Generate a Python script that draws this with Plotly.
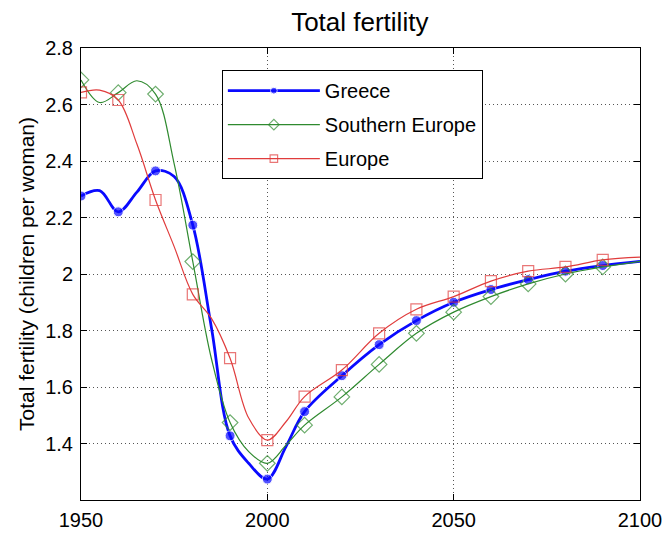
import plotly.graph_objects as go

years = [1950, 1955, 1960, 1965, 1970, 1975, 1980, 1985, 1990, 1995, 2000, 2005,
         2010, 2020, 2030, 2040, 2050, 2060, 2070, 2080, 2090, 2100]
greece = [2.276, 2.295, 2.22, 2.29, 2.365, 2.345, 2.173, 1.81, 1.427, 1.33, 1.274, 1.389,
          1.513, 1.64, 1.75, 1.835, 1.90, 1.945, 1.98, 2.01, 2.03, 2.045]
southern_europe = [2.687, 2.607, 2.642, 2.684, 2.637, 2.39, 2.044, 1.70, 1.474, 1.371, 1.33, 1.394,
                   1.465, 1.565, 1.68, 1.79, 1.865, 1.92, 1.965, 2.0, 2.025, 2.045]
europe = [2.643, 2.651, 2.616, 2.46, 2.262, 2.097, 1.928, 1.843, 1.702, 1.49, 1.412, 1.477,
          1.566, 1.66, 1.79, 1.875, 1.92, 1.975, 2.01, 2.025, 2.05, 2.06]
marker_years = [1950, 1960, 1970, 1980, 1990, 2000, 2010, 2020, 2030, 2040, 2050, 2060, 2070, 2080, 2090]
y_ticks = [1.4, 1.6, 1.8, 2.0, 2.2, 2.4, 2.6, 2.8]
y_tick_text = ["1.4", "1.6", "1.8", "2", "2.2", "2.4", "2.6", "2.8"]
x_ticks = [1950, 2000, 2050, 2100]

def sizes(s):
    return [s if y in marker_years else 0 for y in years]

fig = go.Figure()
fig.add_trace(go.Scatter(
    x=years, y=greece, name="Greece", mode="lines+markers", legendgroup="g1",
    line=dict(color="#0a0aff", width=2.8, shape="spline", smoothing=1.0),
    marker=dict(symbol="circle", size=sizes(10), color="#0a0aff"),
))
fig.add_trace(go.Scatter(
    x=years, y=southern_europe, name="Southern Europe", mode="lines+markers", legendgroup="g2",
    line=dict(color="#2f8a2f", width=1.2, shape="spline", smoothing=1.0),
    marker=dict(symbol="diamond-open", size=sizes(12), color="#2f8a2f", line=dict(width=1.2)),
))
fig.add_trace(go.Scatter(
    x=years, y=europe, name="Europe", mode="lines+markers", legendgroup="g3",
    line=dict(color="#e03c3c", width=1.2, shape="spline", smoothing=1.0),
    marker=dict(symbol="square-open", size=sizes(11), color="#e03c3c", line=dict(width=1.2)),
))

axis_common = dict(
    showline=True, linecolor="black", linewidth=1, mirror="ticks",
    ticks="inside", ticklen=6, tickcolor="black",
    showgrid=True, gridcolor="#555555", griddash="1px,3px", gridwidth=1,
    zeroline=False, automargin=False,
    tickfont=dict(family="Arial, Liberation Sans", size=20, color="black"),
)

fig.update_layout(
    width=665, height=533,
    margin=dict(l=81, r=25, t=48, b=33),
    paper_bgcolor="white", plot_bgcolor="white",
    font=dict(family="Arial, Liberation Sans", color="black"),
    title=dict(text="Total fertility", x=0.541, xanchor="center", y=0.959, yanchor="middle",
               font=dict(size=26, color="black")),
    xaxis=dict(range=[1950, 2100], tickvals=x_ticks, ticklabelstandoff=2, **axis_common),
    yaxis=dict(range=[1.2, 2.8], tickvals=y_ticks, ticktext=y_tick_text, ticklabelstandoff=3,
               title=dict(text="Total fertility (children per woman)", font=dict(size=21), standoff=4),
               **axis_common),
    legend=dict(x=0.252, y=0.951, xanchor="left", yanchor="top",
                bordercolor="black", borderwidth=1, bgcolor="white", tracegroupgap=5,
                itemwidth=92, font=dict(size=20, color="black")),
    showlegend=True,
)

fig.write_html(
    "out.html",
    config={"displayModeBar": False},
    post_script="document.body.style.margin='0';document.documentElement.style.overflow='hidden';",
)
